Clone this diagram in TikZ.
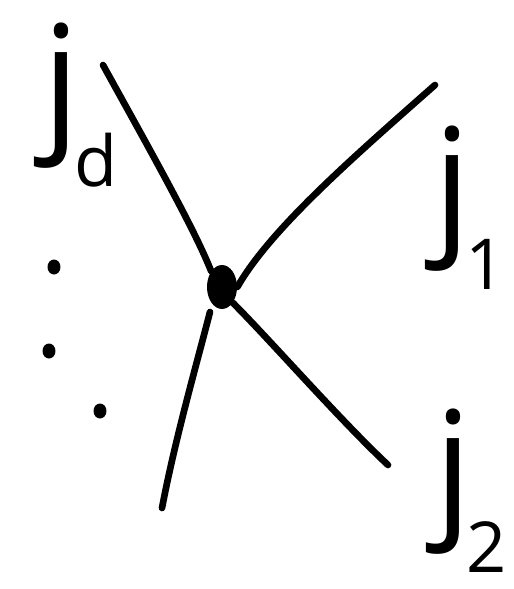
\documentclass[tikz,border=0pt]{standalone}
\usepackage{fontspec}
\setsansfont{Open Sans}
\usepackage{tikz}
\usetikzlibrary{shapes.geometric}
\newcommand\jsub[1]{j\kern-3pt\raisebox{-31pt}{\fontsize{40}{40}\selectfont #1}}

\begin{document}
\begin{tikzpicture}[x=0.02cm, y=-0.02cm,
    leg/.style={line width=3.8pt, line cap=round},
    lbl/.style={inner sep=0pt, anchor=base west, font=\sffamily\fontsize{85}{85}\selectfont},
    dotmark/.style={fill, ellipse, minimum width=0.26cm, minimum height=0.3cm, inner sep=0pt}]
      \useasboundingbox (0,0) rectangle (514,589);
      % vertex and legs
      \node[fill, ellipse, minimum width=0.6cm, minimum height=0.88cm, inner sep=0pt] (v) at (222,287) {};
      \coordinate (ul) at (103,65);
      \coordinate (ur) at (435,85);
      \coordinate (lr) at (388,465);
      \coordinate (ll) at (162,508);
      \coordinate (llstart) at (210,312);
      \draw[leg] (ul) .. controls (150,150) and (195,230) .. (v.north west);
      \draw[leg] (ur) .. controls (350,160) and (270,230) .. (v.east);
      \draw[leg] (v.south east) .. controls (270,340) and (340,420) .. (lr);
      \draw[leg] (llstart) .. controls (195,370) and (175,440) .. (ll);
      % labels
      \node[lbl] (jd) at (42,132) {\jsub{d}};
      \node[lbl] (j1) at (433,235) {\jsub{1}};
      \node[lbl] (j2) at (434,518) {\jsub{2}};
      % dots
      \node[dotmark] (d1) at (54,267) {};
      \node[dotmark] (d2) at (49,351) {};
      \node[dotmark] (d3) at (100,411) {};
\end{tikzpicture}
\end{document}
